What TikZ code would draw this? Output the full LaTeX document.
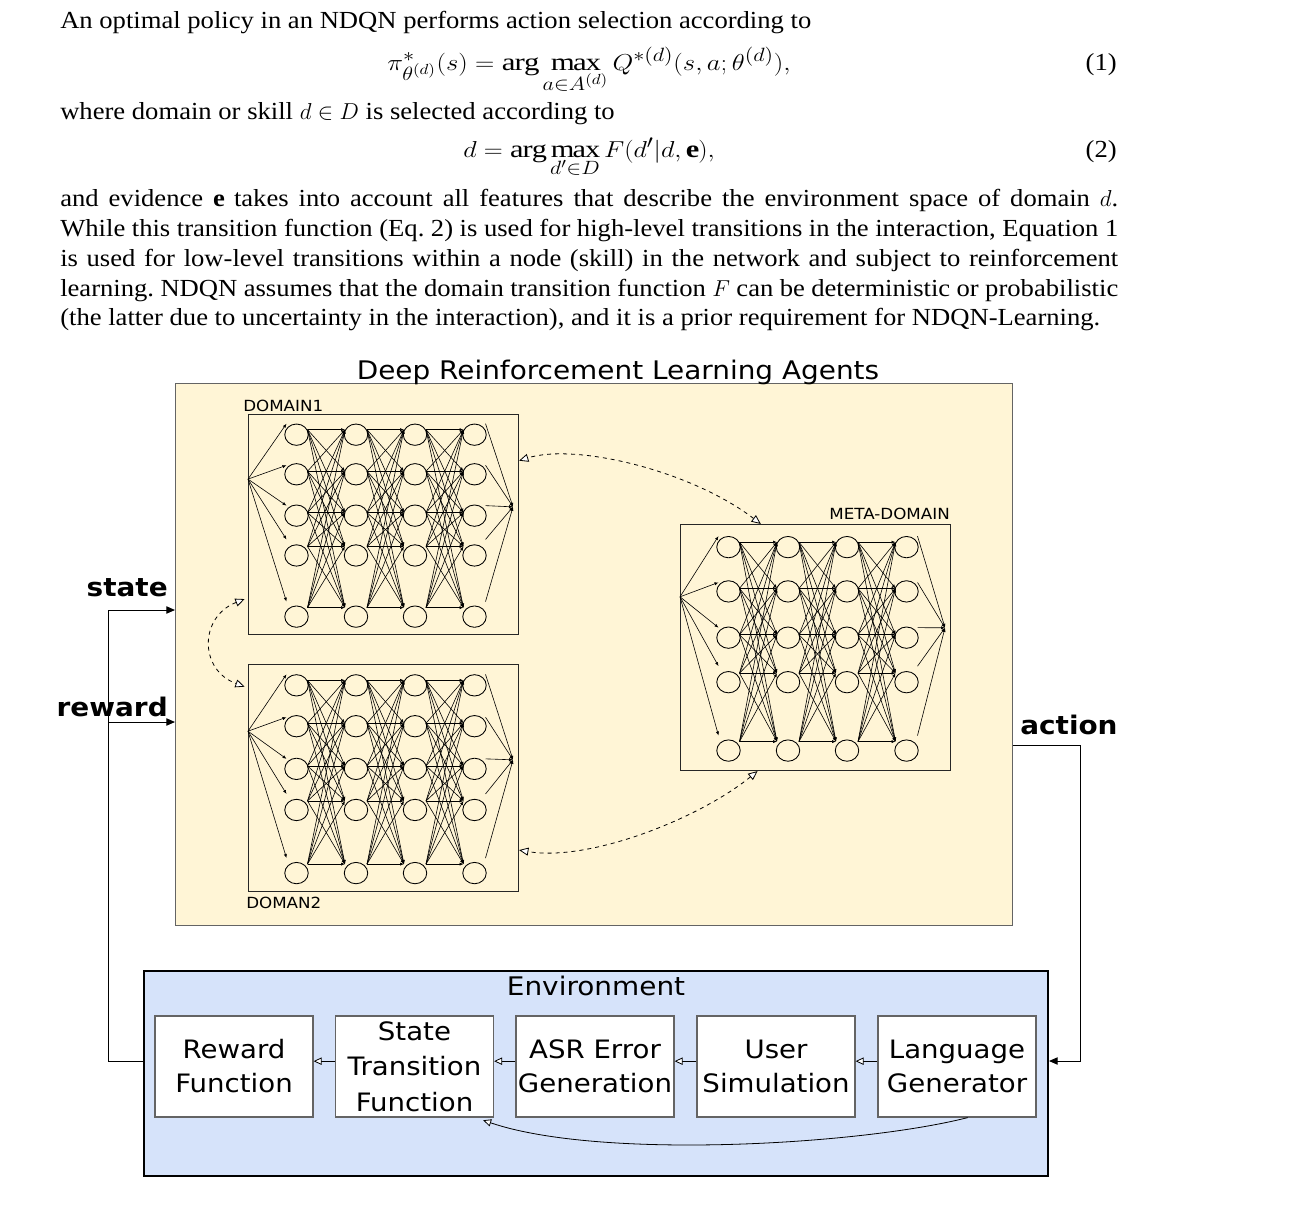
\documentclass[tikz,border=0pt]{standalone}
\usepackage{fontspec}
\setmainfont{Liberation Serif}[FakeStretch=1.085]
\newfontfamily\dv[FakeStretch=1.09]{DejaVu Sans}
\usetikzlibrary{arrows.meta,shapes.geometric}
\DeclareMathSizes{18.4}{18.4}{14.7}{11}
\definecolor{agentbg}{RGB}{255,245,214}
\definecolor{envbg}{RGB}{214,227,250}
\definecolor{boxgray}{RGB}{100,100,100}
\tikzset{
  txt/.style={inner sep=0pt,font=\fontsize{18.4}{22.5}\selectfont\frenchspacing},
  netbox/.style={draw=black!85,line width=0.8pt,inner sep=0pt},
  neuron/.style={ellipse,draw=black,line width=0.65pt,minimum width=17.6pt,minimum height=16pt,inner sep=0pt},
  netline/.style={draw=black,line width=0.45pt,-{Latex[length=3pt,width=2.4pt]}},
  lbl/.style={inner sep=0pt,font=\dv\fontsize{11.5}{13}\selectfont},
  big/.style={inner sep=0pt,font=\dv\fontsize{19.2}{26}\selectfont},
  bigbold/.style={inner sep=0pt,font=\dv\bfseries\fontsize{19.2}{26}\selectfont},
  ebox/.style={draw=boxgray,line width=0.9pt,fill=white,minimum width=118.5pt,minimum height=75.75pt,align=center,inner sep=0pt,font=\dv\fontsize{19}{26.5}\selectfont},
  eline/.style={draw=black,line width=0.6pt,-{Triangle[fill=white,length=6pt,width=5.5pt]}},
  dasharr/.style={draw=black,dashed,line width=0.6pt,{Triangle[fill=white,length=7pt,width=6pt]}-{Triangle[fill=white,length=7pt,width=6pt]}},
  fb/.style={draw=black,line width=0.75pt,-{Triangle[length=6.5pt,width=5.5pt]}}
}
\newcommand{\netw}[5]{%
  \node[netbox,minimum width={#3*0.75pt},minimum height={#4*0.75pt},anchor=north west] (#5) at (#1,#2) {};
  \foreach \ci/\cx in {1/48.5,2/108,3/167,4/226.5}{%
    \foreach \ri/\fy/\oa/\ob in {1/0.094/-5/-11,2/0.274/-3/-9,3/0.462/-3/-10,4/0.643/-9/-16,5/0.921/-9/-15}{%
      \node[neuron] (#5-n\ci\ri) at ({#1+\cx},{#2+\fy*#4}) {};
      \coordinate (#5-a\ci\ri) at ({#1+\cx+11},{#2+\fy*#4+\oa});
      \coordinate (#5-b\ci\ri) at ({#1+\cx-11},{#2+\fy*#4+\oa});
      \coordinate (#5-p\ci\ri) at ({#1+\cx+11},{#2+\fy*#4+\ob});
      \coordinate (#5-q\ci\ri) at ({#1+\cx-10},{#2+\fy*#4+\ob});
    }%
  }%
  \coordinate (#5-in) at (#1,{#2+0.296*#4});
  \coordinate (#5-out) at ({#1+265},{#2+0.422*#4});
  \foreach \ri in {1,...,5}{%
    \draw[netline] (#5-in) -- (#5-q1\ri);
    \draw[netline] (#5-p4\ri) -- (#5-out);
  }%
  \foreach \ci/\di in {1/2,2/3,3/4}{%
    \foreach \ri in {1,...,5}{%
      \foreach \si in {1,...,5}{%
        \draw[netline] (#5-a\ci\ri) -- (#5-b\di\si);
      }%
    }%
  }%
}
\begin{document}
\begin{tikzpicture}[x=0.75pt,y=-0.75pt]
\useasboundingbox (0,0) rectangle (1306,1220);
\fill[white] (0,0) rectangle (1306,1220);
% ---------- text ----------
\node[txt,anchor=base west] (t1) at (60,29) {An optimal policy in an NDQN performs action selection according to};
\node[txt,anchor=base] (eq1) at (589,71) {\scalebox{1.16}[1]{$\displaystyle \pi^*_{\theta^{(d)}}(s)=\arg\max_{a\in A^{(d)}} Q^{*(d)}(s,a;\theta^{(d)}),$}};
\node[txt,anchor=base east] (eq1n) at (1117,71) {(1)};
\node[txt,anchor=base west] (t2) at (60,120) {where domain or skill $d\in D$ is selected according to};
\node[txt,anchor=base] (eq2) at (589,158) {\scalebox{1.14}[1]{$\displaystyle d=\arg\max_{d'\in D}F(d'|d,\mathbf{e}),$}};
\node[txt,anchor=base east] (eq2n) at (1117,158) {(2)};
\node[txt,anchor=base west] (p1) at (60,206) {\hbox to 793.5pt{and evidence $\mathbf{e}$ takes into account all features that describe the environment space of domain $d$.}};
\node[txt,anchor=base west] (p2) at (60,236) {\hbox to 793.5pt{While this transition function (Eq.~2) is used for high-level transitions in the interaction, Equation 1}};
\node[txt,anchor=base west] (p3) at (60,266) {\hbox to 793.5pt{is used for low-level transitions within a node (skill) in the network and subject to reinforcement}};
\node[txt,anchor=base west] (p4) at (60,296) {\hbox to 793.5pt{learning. NDQN assumes that the domain transition function $F$ can be deterministic or probabilistic}};
\node[txt,anchor=base west] (p5) at (60,325) {(the latter due to uncertainty in the interaction), and it is a prior requirement for NDQN-Learning.};
% ---------- agents ----------
\node[draw=boxgray,line width=1.1pt,fill=agentbg,minimum width=627.75pt,minimum height=406.5pt,inner sep=0pt,anchor=north west] (agents) at (175,383) {};
\node[big,anchor=base] (agt) at (618,379) {Deep Reinforcement Learning Agents};
\netw{248}{414}{270}{220}{dA}
\netw{248}{664}{270}{227}{dB}
\netw{680}{524}{270}{246}{dM}
\node[lbl,anchor=base west] (dAl) at (243,411) {DOMAIN1};
\node[lbl,anchor=base west] (dBl) at (246,908) {DOMAN2};
\node[lbl,anchor=base east] (dMl) at (950,519) {META-DOMAIN};
\draw[dasharr] ([xshift=-41pt]dM.north) .. controls (690,470) and (575,443) .. ([yshift=-35pt]dA.north east);
\draw[dasharr] ([xshift=-43.5pt]dM.south) .. controls (700,818) and (590,862) .. ([yshift=31.5pt]dB.south east);
\draw[dasharr] ([xshift=-2.5pt,yshift=27pt]dA.south west) .. controls (199,617) and (199,670) .. ([xshift=-2.5pt,yshift=-17pt]dB.north west);
% ---------- environment ----------
\node[draw=black,line width=1.5pt,fill=envbg,minimum width=678pt,minimum height=153.75pt,inner sep=0pt,anchor=north west] (env) at (143,970) {};
\node[big,anchor=base] (envt) at (596,995) {Environment};
\node[ebox] (rew) at (234,1066.5) {Reward\\[-1pt]Function};
\node[ebox] (st) at (414.5,1066.5) {State\\Transition\\Function};
\node[ebox] (asr) at (595,1066.5) {ASR Error\\[-1pt]Generation};
\node[ebox] (usr) at (776,1066.5) {User\\[-1pt]Simulation};
\node[ebox] (lang) at (957,1066.5) {Language\\[-1pt]Generator};
\draw[eline] ([yshift=4pt]lang.west) -- ([yshift=4pt]usr.east);
\draw[eline] ([yshift=4pt]usr.west) -- ([yshift=4pt]asr.east);
\draw[eline] ([yshift=4pt]asr.west) -- ([yshift=4pt]st.east);
\draw[eline] ([yshift=4pt]st.west) -- ([yshift=4pt]rew.east);
\draw[eline] ([xshift=8pt]lang.south) .. controls (860,1145) and (600,1160) .. ([xshift=51.5pt,yshift=-2pt]st.south);
% ---------- feedback ----------
\coordinate (sbend) at (108,610);
\coordinate (rbend) at (108,722);
\coordinate (ebend) at (108,1061);
\draw[fb] (env.west |- ebend) -- (ebend) -- (sbend) -- (agents.west |- sbend);
\draw[fb] (rbend) -- (agents.west |- rbend);
\coordinate (abend1) at (1080,745);
\coordinate (abend2) at (1080,1061);
\draw[fb] (agents.east |- abend1) -- (abend1) -- (abend2) -- (env.east |- abend2);
\node[bigbold,anchor=base east] (sl) at (168,596) {state};
\node[bigbold,anchor=base east] (rl) at (168,716) {reward};
\node[bigbold,anchor=base west] (al) at (1020,734) {action};
\end{tikzpicture}
\end{document}
